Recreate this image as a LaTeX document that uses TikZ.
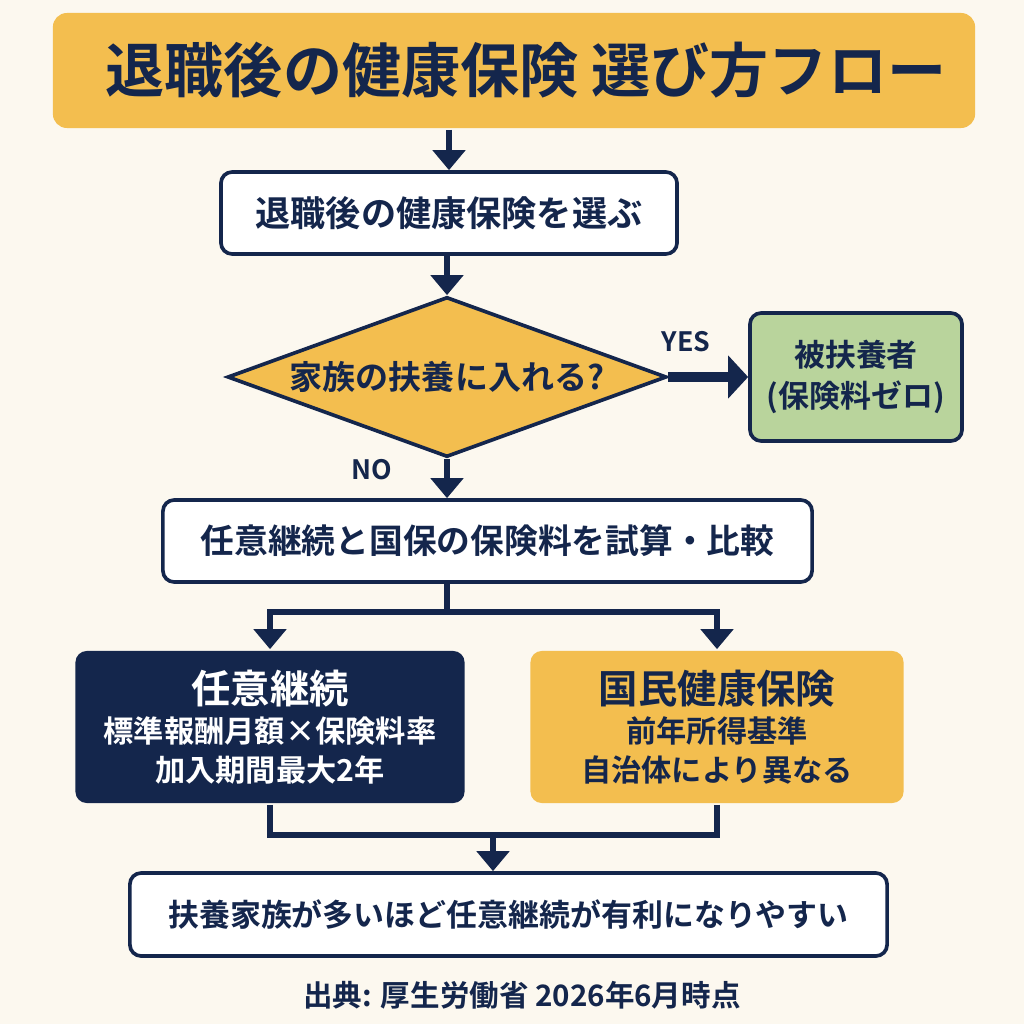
\documentclass[tikz,border=0pt]{standalone}
\usepackage{fontspec}
\setmainfont{Noto Sans CJK JP}[BoldFont={* Bold}]
\usepackage{xcolor}
\definecolor{flowNavy}{HTML}{14264C}
\definecolor{flowYellow}{HTML}{F3BE4F}
\definecolor{flowGreen}{HTML}{B9D49C}
\definecolor{flowCream}{HTML}{FCF8EF}
\usetikzlibrary{arrows.meta, shapes.geometric}
\newcommand{\Taille}[1]{\fontsize{#1}{1.3\dimexpr#1pt\relax}\selectfont\bfseries}
\tikzset{
  %% -- Boxes --------------------------------------------------------------
  boite/.style      = {draw=flowNavy, line width=2.6pt, rounded corners=8pt,
                       fill=white, text=flowNavy, align=center, inner sep=0pt},
  boiteJaune/.style = {boite, draw=none, fill=flowYellow},
  boiteVerte/.style = {boite, fill=flowGreen},
  boiteNavy/.style  = {boite, draw=none, fill=flowNavy, text=white},
  losange/.style    = {diamond, draw=flowNavy, line width=2.6pt, fill=flowYellow,
                       inner sep=0pt},
  %%
  %% -- Arrows -------------------------------------------------------------
  trait/.style      = {draw=flowNavy, line width=4.5pt},
  fleche/.style     = {trait, -{Triangle[length=5mm, width=8mm]}},
  flecheOui/.style  = {draw=flowNavy, line width=7pt,
                       -{Triangle[length=5mm, width=10.5mm]}},
  %%
  %% -- Text ---------------------------------------------------------------
  etiquette/.style  = {text=flowNavy, inner sep=0pt, font=\Taille{19}},
}

\begin{document}
\begin{tikzpicture}[x=0.025cm, y=-0.025cm]
\useasboundingbox (0,0) rectangle (1024,1024);
\fill[flowCream] (0,0) rectangle (1024,1024);

\node[boiteJaune, rounded corners=10pt, minimum width=23.05cm, minimum height=2.875cm,
      text=flowNavy, font=\Taille{42}] (titre) at (514,70.5)
     {\hspace{0.6cm}退職後の健康保険 選び方フロー};
\node[boite, minimum width=11.4cm, minimum height=2.05cm, font=\Taille{25}]
     (choix) at (449,213) {退職後の健康保険を選ぶ};
\node[losange, minimum width=10.975cm, minimum height=4cm] (q) at (447,377) {};
\node[text=flowNavy, font=\Taille{23.5}] (qTexte) at (q.center) {家族の扶養に入れる?};
\node[boiteVerte, minimum width=5.3cm, minimum height=3.2cm, font=\Taille{22}]
     (fuyou) at (856,377) {被扶養者\\(保険料ゼロ)};
\node[boite, minimum width=16.225cm, minimum height=2.05cm, font=\Taille{24}]
     (shisan) at (487.5,541) {任意継続と国保の保険料を試算・比較};
\node[boiteNavy, minimum width=9.725cm, minimum height=3.8cm, font=\Taille{21.5}]
     (nini) at (270,727)
     {{\Taille{28}任意継続}\\ 標準報酬月額×保険料率\\ 加入期間最大2年};
\node[boiteJaune, minimum width=9.325cm, minimum height=3.8cm, font=\Taille{21.5}]
     (kokuho) at (717,727)
     {{\Taille{28}国民健康保険}\\ 前年所得基準\\ 自治体により異なる};
\node[boite, minimum width=18.925cm, minimum height=2.075cm, font=\Taille{22}]
     (ketsuron) at (508.5,914.5) {扶養家族が多いほど任意継続が有利になりやすい};
\node[etiquette, font=\Taille{21}] (source) at (522,995)
     {出典: 厚生労働省 2026年6月時点};

\node[etiquette] (oui) at (686,342) {YES};
\node[etiquette] (non) at (372,470) {NO};

\coordinate (split) at (447,612);
\coordinate (merge) at (493,835);

\draw[fleche] (titre.south -| choix.north) -- (choix.north);
\draw[fleche] (choix.south -| q.north) -- (q.north);
\draw[flecheOui] (q.east) -- (q.east -| fuyou.west);
\draw[fleche] (q.south) -- (q.south |- shisan.north);
\draw[trait] (q.south |- shisan.south) -- (split);
\draw[fleche] (split) -| (nini.north);
\draw[fleche] (split) -| (kokuho.north);
\draw[trait] (nini.south) |- (merge);
\draw[trait] (kokuho.south) |- (merge);
\draw[fleche] (merge) -- (merge |- ketsuron.north);

\end{tikzpicture}
\end{document}
